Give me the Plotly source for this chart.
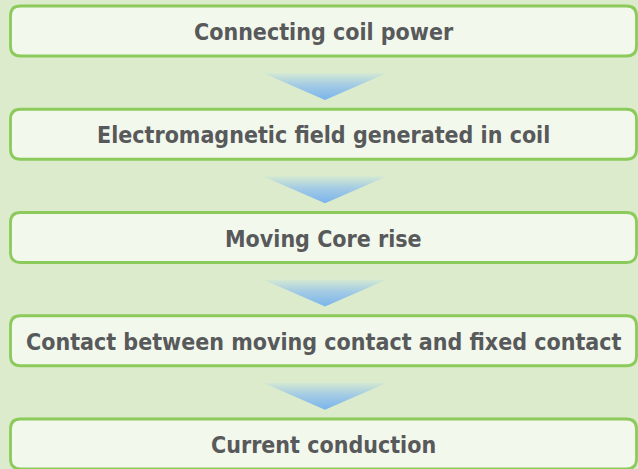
import plotly.graph_objects as go

steps = [
    "Connecting coil power",
    "Electromagnetic field generated in coil",
    "Moving Core rise",
    "Contact between moving contact and fixed contact",
    "Current conduction",
]

W, H = 638, 469
BG = "#dcebcb"
BOX_FILL = "#f2f8ec"
BORDER = "#8bca5b"
TEXT = "#58595b"

box_x0, box_x1 = 10.5, 636.5
box_h = 50
first_top = 6
pitch = 103.25
radius = 10
tri_w, tri_h, tri_gap = 124, 27, 17
cx = 325


def rounded_rect(x0, y0, x1, y1, r):
    return (f"M {x0+r},{y0} L {x1-r},{y0} Q {x1},{y0} {x1},{y0+r} "
            f"L {x1},{y1-r} Q {x1},{y1} {x1-r},{y1} L {x0+r},{y1} "
            f"Q {x0},{y1} {x0},{y1-r} L {x0},{y0+r} Q {x0},{y0} {x0+r},{y0} Z")


fig = go.Figure()
shapes = []
annotations = []
for i, label in enumerate(steps):
    top = first_top + i * pitch
    bottom = top + box_h
    shapes.append(dict(type="path", path=rounded_rect(box_x0, top, box_x1, bottom, radius),
                       xref="x", yref="y", fillcolor=BOX_FILL,
                       line=dict(color=BORDER, width=2.8), layer="below"))
    annotations.append(dict(x=(box_x0 + box_x1) / 2, y=(top + bottom) / 2 + 1, xref="x", yref="y",
                            text=f"<b>{label}</b>", showarrow=False,
                            font=dict(family="DejaVu Sans Condensed", size=23, color=TEXT)))
    if i < len(steps) - 1:
        t0 = bottom + tri_gap
        t1 = t0 + tri_h
        fig.add_trace(go.Scatter(
            x=[cx - tri_w / 2, cx + tri_w / 2, cx, cx - tri_w / 2],
            y=[t0, t0, t1, t0],
            mode="lines", line=dict(width=0), fill="toself",
            fillgradient=dict(type="vertical", start=t0, stop=t1,
                              colorscale=[[0, "#d4e9d2"], [0.45, "#a3cbe4"], [1, "#7ab4ec"]]),
            hoverinfo="skip", showlegend=False,
        ))

fig.update_layout(
    width=W, height=H, margin=dict(l=0, r=0, t=0, b=0),
    paper_bgcolor=BG, plot_bgcolor=BG,
    xaxis=dict(range=[0, W], visible=False, fixedrange=True),
    yaxis=dict(range=[H, 0], visible=False, fixedrange=True),
    shapes=shapes, annotations=annotations, showlegend=False,
)
fig.write_html("out.html", config={"displayModeBar": False},
               post_script="document.body.style.margin='0';document.body.style.background='" + BG + "';")
